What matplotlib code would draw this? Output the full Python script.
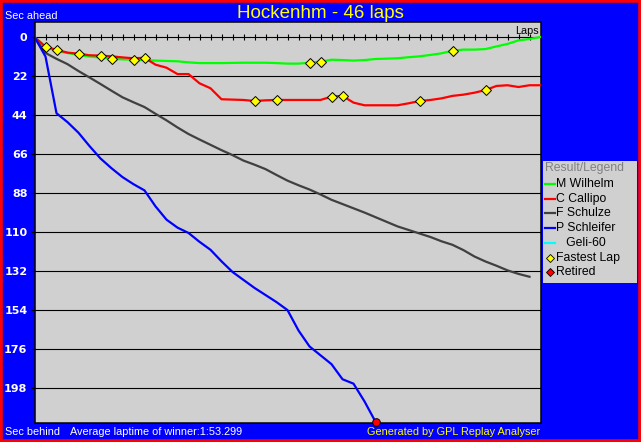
import matplotlib
matplotlib.use("Agg")
import matplotlib.pyplot as plt
from matplotlib.patches import Rectangle

plt.rcParams['font.family'] = ['Liberation Sans', 'DejaVu Sans']

# ---------------- data ----------------
title = "Hockenhm - 46 laps"
total_laps = 46
avg_text = "Average laptime of winner:1:53.299"
credit = "Generated by GPL Replay Analyser"

drivers = ["M Wilhelm", "C Callipo", "F Schulze", "P Schleifer", "   Geli-60"]
driver_colors = ["#00FF00", "#FF0000", "#404040", "#0000FF", "#00FFFF"]

# seconds behind leader at end of each lap (lap 0 .. n)
wilhelm = [0, 5.5, 7.9, 9.0, 10.1, 11.0, 11.6, 12.2, 12.6, 12.8, 13.0, 13.3, 13.5,
           13.7, 14.3, 14.7, 14.7, 14.7, 14.6, 14.5, 14.5, 14.5, 14.7, 15.0, 15.0,
           14.5, 13.9, 12.8, 13.0, 13.3, 13.0, 12.4, 12.2, 12.0, 11.4, 10.9, 10.1,
           9.2, 7.7, 7.1, 7.1, 6.8, 5.3, 3.9, 1.9, 1.1, 0]
callipo = [0, 5.5, 7.2, 8.8, 9.4, 10.3, 10.5, 10.9, 11.5, 12.0, 11.7, 15.6, 17.3,
           20.9, 20.9, 26.1, 28.9, 35.1, 35.3, 35.5, 36.1, 35.7, 35.5, 35.5, 35.5,
           35.5, 35.5, 33.6, 33.2, 37.0, 38.5, 38.5, 38.5, 38.5, 37.4, 36.1, 35.5,
           34.6, 33.2, 32.5, 31.4, 29.9, 27.6, 27.2, 28.2, 27.2, 27.2]
schulze = [0, 9.0, 12.3, 15.3, 19.2, 22.8, 26.5, 30.3, 34.0, 36.8, 39.5, 43.3, 47.0,
           51.0, 54.7, 57.8, 60.8, 63.8, 66.6, 69.7, 72.0, 74.5, 77.8, 81.0, 83.6,
           86.0, 88.8, 91.8, 94.2, 96.6, 99.0, 101.6, 104.2, 106.8, 108.8, 110.8,
           112.8, 115.2, 117.2, 120.2, 123.8, 126.6, 129.0, 131.6, 133.6, 135.2]
schleifer = [0, 11, 43, 48, 54, 61.5, 68.5, 74, 79, 83, 86.5, 95.5, 103, 107.5,
             110.5, 115.5, 120, 126.5, 132.5, 137, 141.5, 145.5, 149.5, 154, 165.5,
             174.5, 179.5, 184.5, 193, 195.5, 205.5, 217]

fastest_laps_wilhelm = [7, 9, 25, 26, 38]
fastest_laps_callipo = [1, 2, 4, 6, 10, 20, 22, 27, 28, 35, 41]

yticks = [0, 22, 44, 66, 88, 110, 132, 154, 176, 198]
legend_title = "Result/Legend"
legend_extra = ["Fastest Lap", "Retired"]

# ---------------- figure ----------------
W, H = 641, 442
BLUE = "#0000FF"
GRAY = "#D0D0D0"
fig = plt.figure(figsize=(W / 100, H / 100), dpi=100, facecolor=BLUE)

def fx(px):
    return px / W

def fy(py):
    return 1 - py / H

ax_l, ax_r, ax_t, ax_b = 34.5, 540.5, 22.3, 422.5
ax = fig.add_axes([fx(ax_l), fy(ax_b), (ax_r - ax_l) / W, (ax_b - ax_t) / H])
ax.set_facecolor(GRAY)
ax.set_xlim(0, total_laps)
ax.set_ylim(217.4, -8.3)
for s in ax.spines.values():
    s.set_color("black")
    s.set_linewidth(1.1)
ax.set_xticks([])
ax.set_yticks(yticks)
ax.set_yticklabels([str(v) for v in yticks], color="white", fontweight="bold",
                   fontsize=8, family="DejaVu Sans")
ax.tick_params(axis="y", direction="out", length=3, width=0.8, color="black", pad=2)
ax.grid(axis="y", color="black", linewidth=0.8)
ax.set_axisbelow(True)

# lap ticks on the zero line
lap_ticks = list(range(1, total_laps))
ax.plot(lap_ticks, [0] * len(lap_ticks), ls="none", marker="|", ms=4, mew=0.8,
        color="black", zorder=2)

series = [wilhelm, callipo, schulze, schleifer]
for vals, col in zip(series, driver_colors):
    ax.plot(range(len(vals)), vals, color=col, lw=1.6, zorder=3)

for laps_list, vals in [(fastest_laps_wilhelm, wilhelm), (fastest_laps_callipo, callipo)]:
    ax.plot(laps_list, [vals[l] for l in laps_list], ls="none", marker="D", ms=5,
            mfc="#FFFF00", mec="black", mew=0.7, zorder=4)

ax.plot([len(schleifer) - 1], [schleifer[-1]], ls="none", marker="o", ms=5.5,
        mfc="#FF0000", mec="black", mew=0.7, zorder=5, clip_on=False)

# ---------------- legend box ----------------
lx0, lx1, ly0, ly1 = 543, 637.5, 161, 283
lax = fig.add_axes([fx(lx0), fy(ly1), (lx1 - lx0) / W, (ly1 - ly0) / H])
lax.set_facecolor(GRAY)
lax.set_xlim(0, lx1 - lx0)
lax.set_ylim(ly1 - ly0, 0)
lax.set_xticks([])
lax.set_yticks([])
for s in lax.spines.values():
    s.set_visible(False)
lax.text(1.5, 7.5, legend_title, color="#808080", fontsize=8.8, va="center", ha="left")
row0, dy = 23, 14.7
for i, (name, col) in enumerate(zip(drivers, driver_colors)):
    y = row0 + dy * i
    lax.plot([2, 12], [y, y], color=col, lw=1.6)
    lax.text(13, y, name, color="black", fontsize=8.8, va="center", ha="left")
y = row0 + dy * 5
lax.plot([6.5], [y], ls="none", marker="D", ms=4.5, mfc="#FFFF00", mec="black", mew=0.6)
lax.text(13, y, legend_extra[0], color="black", fontsize=8.8, va="center", ha="left")
y = row0 + dy * 6
lax.plot([6.5], [y], ls="none", marker="D", ms=4.5, mfc="#FF0000", mec="black", mew=0.6)
lax.text(13, y, legend_extra[1], color="black", fontsize=8.8, va="center", ha="left")

# ---------------- texts ----------------
fig.text(fx(320), fy(13), title, color="#FFFF00", fontsize=13.5, ha="center", va="center")
fig.text(fx(5), fy(16), "Sec ahead", color="white", fontsize=7.8, ha="left", va="center")
fig.text(fx(539), fy(36), "Laps", color="black", fontsize=7.8, ha="right", va="bottom")
fig.text(fx(5), fy(432), "Sec behind", color="white", fontsize=7.8, ha="left", va="center")
fig.text(fx(70), fy(432), avg_text, color="white", fontsize=7.8, ha="left", va="center")
fig.text(fx(540.5), fy(432), credit, color="#FFFF00", fontsize=7.8, ha="right", va="center")

# red outer border
fig.add_artist(Rectangle((0, 0), 1, 1, transform=fig.transFigure, fill=False,
                         edgecolor="#FF0000", linewidth=4))

fig.savefig("out.png", dpi=100, facecolor=BLUE)
